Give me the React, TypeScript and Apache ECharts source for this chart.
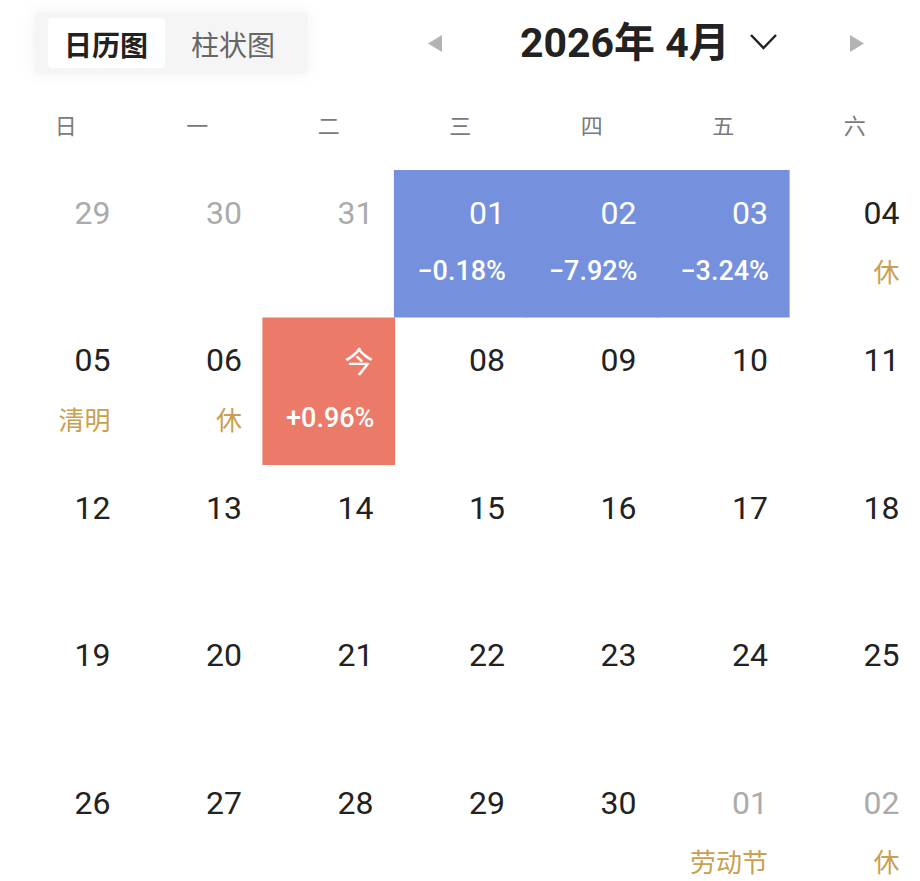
import React, { useEffect, useRef } from 'react';
import * as echarts from 'echarts';

const weekdayLabels = ['日', '一', '二', '三', '四', '五', '六'];
const calendarRange = ['2026-03-29', '2026-05-02'];
const dates = [
  '2026-03-29', '2026-03-30', '2026-03-31', '2026-04-01', '2026-04-02', '2026-04-03', '2026-04-04',
  '2026-04-05', '2026-04-06', '2026-04-07', '2026-04-08', '2026-04-09', '2026-04-10', '2026-04-11',
  '2026-04-12', '2026-04-13', '2026-04-14', '2026-04-15', '2026-04-16', '2026-04-17', '2026-04-18',
  '2026-04-19', '2026-04-20', '2026-04-21', '2026-04-22', '2026-04-23', '2026-04-24', '2026-04-25',
  '2026-04-26', '2026-04-27', '2026-04-28', '2026-04-29', '2026-04-30', '2026-05-01', '2026-05-02',
];
const changeDates = ['2026-04-01', '2026-04-02', '2026-04-03', '2026-04-07'];
const changeValues = [-0.18, -7.92, -3.24, 0.96];
const holidayDates = ['2026-04-04', '2026-04-05', '2026-04-06', '2026-05-01', '2026-05-02'];
const holidayNames = ['休', '清明', '休', '劳动节', '休'];
const todayDate = '2026-04-07';
const todayLabel = '今';
const currentMonth = '2026-04';
const titleText = '2026年 4月';
const tabLabels = ['日历图', '柱状图'];

const NUM_FONT = 'Roboto, "Noto Sans CJK SC", sans-serif';
const CJK_FONT = '"Noto Sans CJK SC", sans-serif';

export default function App() {
  const ref = useRef<HTMLDivElement>(null);
  useEffect(() => {
    const chart = echarts.init(ref.current as HTMLDivElement, null, { renderer: 'svg' });
    const data = dates.map((d) => [d]);
    const option: any = {
      animation: false,
      backgroundColor: '#ffffff',
      calendar: {
        orient: 'vertical',
        range: calendarRange,
        left: 0,
        top: 170,
        cellSize: [131.5, 147.5],
        splitLine: { show: false },
        itemStyle: { color: 'transparent', borderWidth: 0 },
        yearLabel: { show: false },
        monthLabel: { show: false },
        dayLabel: {
          firstDay: 0,
          nameMap: weekdayLabels,
          position: 'start',
          margin: 35,
          color: '#7a7a7a',
          fontSize: 22,
          fontFamily: CJK_FONT,
        },
      },
      graphic: [
        {
          type: 'rect',
          shape: { x: 34, y: 12, width: 274, height: 62, r: 6 },
          style: { fill: '#f5f5f5', shadowBlur: 16, shadowColor: 'rgba(0,0,0,0.05)' },
        },
        {
          type: 'rect',
          shape: { x: 48, y: 18, width: 117, height: 50, r: 4 },
          style: { fill: '#ffffff' },
        },
        {
          type: 'text',
          style: { x: 106, y: 44, text: tabLabels[0], align: 'center', verticalAlign: 'middle', fontSize: 28, fontWeight: 'bold', fontFamily: CJK_FONT, fill: '#222222' },
        },
        {
          type: 'text',
          style: { x: 233, y: 44, text: tabLabels[1], align: 'center', verticalAlign: 'middle', fontSize: 28, fontFamily: CJK_FONT, fill: '#666666' },
        },
        {
          type: 'polygon',
          shape: { points: [[442, 35], [442, 52], [428, 43.5]] },
          style: { fill: '#b3b3b3' },
        },
        {
          type: 'text',
          style: { x: 520, y: 43, text: titleText, align: 'left', verticalAlign: 'middle', fontSize: 41, fontWeight: 'bold', fontFamily: NUM_FONT, fill: '#222222' },
        },
        {
          type: 'polyline',
          shape: { points: [[751, 35], [763.5, 48], [776, 35]] },
          style: { stroke: '#222222', lineWidth: 2.5, fill: 'none' },
        },
        {
          type: 'polygon',
          shape: { points: [[850, 35], [850, 52], [864, 43.5]] },
          style: { fill: '#b3b3b3' },
        },
      ],
      series: [
        {
          type: 'custom',
          coordinateSystem: 'calendar',
          data,
          renderItem: (params: any, api: any) => {
            const idx = params.dataIndex;
            const d = dates[idx];
            const pt = api.coord([api.value(0)]);
            const cw = params.coordSys.cellWidth;
            const ch = params.coordSys.cellHeight;
            const ci = changeDates.indexOf(d);
            const hi = holidayDates.indexOf(d);
            const inMonth = d.startsWith(currentMonth);
            const isToday = d === todayDate;
            const children: any[] = [];
            const hasBg = ci >= 0;
            if (hasBg) {
              children.push({
                type: 'rect',
                shape: { x: pt[0] - cw / 2 - 0.6, y: pt[1] - ch / 2, width: cw + 1.2, height: ch },
                style: { fill: changeValues[ci] < 0 ? '#7591de' : '#ec7a69' },
              });
            }
            const rx = pt[0] + cw / 2 - 21;
            const dayText = isToday ? todayLabel : d.slice(8);
            children.push({
              type: 'text',
              style: {
                x: rx,
                y: pt[1] - 31,
                text: dayText,
                align: 'right',
                verticalAlign: 'middle',
                fontSize: isToday ? 29 : 32,
                fontFamily: isToday ? CJK_FONT : NUM_FONT,
                fill: hasBg ? '#ffffff' : inMonth ? '#222222' : '#ababab',
              },
            });
            if (hasBg) {
              const v = changeValues[ci];
              const txt = (v > 0 ? '+' : '−') + Math.abs(v).toFixed(2) + '%';
              children.push({
                type: 'text',
                style: { x: rx + 1, y: pt[1] + 27, text: txt, align: 'right', verticalAlign: 'middle', fontSize: 27, fontWeight: 500, fontFamily: NUM_FONT, fill: '#ffffff' },
              });
            } else if (hi >= 0) {
              children.push({
                type: 'text',
                style: { x: rx, y: pt[1] + 27, text: holidayNames[hi], align: 'right', verticalAlign: 'middle', fontSize: 26, fontFamily: CJK_FONT, fill: '#c9a04e' },
              });
            }
            return { type: 'group', children };
          },
        },
      ],
    };
    chart.setOption(option);
    return () => chart.dispose();
  }, []);
  return <div ref={ref} style={{ position: 'fixed', left: 0, top: 0, width: 920, height: 881 }} />;
}
